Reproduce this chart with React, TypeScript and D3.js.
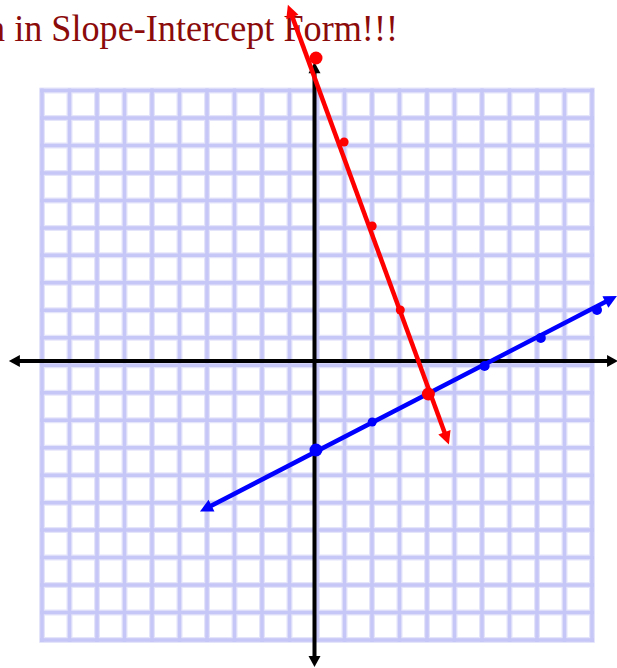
import React from 'react';
import * as d3 from 'd3';

// grid: 20 x 20 cells, -10..10
const gridTicks = d3.range(-10, 11);

// lines, arrow tail -> arrow head
const redEnds: [number, number][] = [[-1.0, 12.9], [4.73, -2.8]];
const blueEnds: [number, number][] = [[-4.13, -5.2], [10.71, 2.5]];

// plotted points [x, y, radius]
const redPoints: [number, number, number][] = [[0, 11, 6.5], [1, 8, 4.5], [2, 5, 4.5], [3, 2, 4.5], [4, -1, 6.5]];
const bluePoints: [number, number, number][] = [[0, -3, 6.5], [2, -2, 4.5], [6, 0, 5], [8, 1, 5], [10, 2, 5]];

const xAxisExtent = [-10.93, 10.75];
const yAxisExtent = [10.85, -10.75];

const title = 'n in Slope-Intercept Form!!!';

function arrowHead(x1: number, y1: number, x2: number, y2: number, len: number, half: number) {
  const a = Math.atan2(y2 - y1, x2 - x1);
  const bx = x2 - len * Math.cos(a);
  const by = y2 - len * Math.sin(a);
  const px = -Math.sin(a) * half;
  const py = Math.cos(a) * half;
  return `M${x2},${y2}L${bx + px},${by + py}L${bx - px},${by - py}Z`;
}

function Arrow({ x1, y1, x2, y2, color, width, len, half, both }: any) {
  const a = Math.atan2(y2 - y1, x2 - x1);
  // stop the shaft a bit short so the tip stays sharp
  const sx2 = x2 - (len * 0.6) * Math.cos(a);
  const sy2 = y2 - (len * 0.6) * Math.sin(a);
  const sx1 = both ? x1 + (len * 0.6) * Math.cos(a) : x1;
  const sy1 = both ? y1 + (len * 0.6) * Math.sin(a) : y1;
  return (
    <g>
      <line x1={sx1} y1={sy1} x2={sx2} y2={sy2} stroke={color} strokeWidth={width} />
      <path d={arrowHead(x1, y1, x2, y2, len, half)} fill={color} />
      {both && <path d={arrowHead(x2, y2, x1, y1, len, half)} fill={color} />}
    </g>
  );
}

export default function App() {
  const width = 617;
  const height = 668;

  // grid cells
  const gx = d3.scaleLinear().domain([-10, 10]).range([42, 592]);
  const gy = d3.scaleLinear().domain([-10, 10]).range([640, 90.5]);

  // plotted values
  const x = d3.scaleLinear().domain([-10, 10]).range([316 - 281, 316 + 281]);
  const y = d3.scaleLinear().domain([-10, 10]).range([646, 86]);

  // the drawn axes sit a few pixels off the grid centre
  const axisX = x(0) - 1.5;
  const axisY = y(0) - 5;

  const gridColor = '#c6c6f7';

  return (
    <svg width={width} height={height} style={{ position: 'absolute', left: 0, top: 0, background: '#fff' }}>
      <g>
        {gridTicks.map(t => (
          <g key={'g' + t}>
            <line x1={gx(t)} x2={gx(t)} y1={gy(-10) + 2.5} y2={gy(10) - 2.5} stroke="#e4e4fb" strokeWidth={6} />
            <line x1={gx(-10) - 2.5} x2={gx(10) + 2.5} y1={gy(t)} y2={gy(t)} stroke="#e4e4fb" strokeWidth={6} />
          </g>
        ))}
        {gridTicks.map(t => (
          <g key={'c' + t}>
            <line x1={gx(t)} x2={gx(t)} y1={gy(-10) + 2} y2={gy(10) - 2} stroke={gridColor} strokeWidth={3.5} />
            <line x1={gx(-10) - 2} x2={gx(10) + 2} y1={gy(t)} y2={gy(t)} stroke={gridColor} strokeWidth={3.5} />
          </g>
        ))}
      </g>

      <text x={-13} y={41} textLength={411} lengthAdjust="spacingAndGlyphs"
        fontFamily="'Liberation Serif', 'Times New Roman', serif"
        fontSize={38} fill="#8b0a0a">{title}</text>

      <Arrow x1={x(xAxisExtent[0])} y1={axisY} x2={x(xAxisExtent[1])} y2={axisY}
        color="#000" width={4} len={11} half={6} both />
      <Arrow x1={axisX} y1={y(yAxisExtent[0])} x2={axisX} y2={y(yAxisExtent[1])}
        color="#000" width={4} len={11} half={6} both />

      <Arrow x1={x(blueEnds[0][0])} y1={y(blueEnds[0][1])} x2={x(blueEnds[1][0])} y2={y(blueEnds[1][1])}
        color="#0000ff" width={4.5} len={13} half={6.5} both />
      <Arrow x1={x(redEnds[1][0])} y1={y(redEnds[1][1])} x2={x(redEnds[0][0])} y2={y(redEnds[0][1])}
        color="#ff0000" width={4.5} len={13} half={6.5} both />

      {bluePoints.map(([px, py, r], i) => (
        <circle key={'b' + i} cx={x(px)} cy={y(py)} r={r} fill="#0000ff" />
      ))}
      {redPoints.map(([px, py, r], i) => (
        <circle key={'r' + i} cx={x(px)} cy={y(py)} r={r} fill="#ff0000" />
      ))}
    </svg>
  );
}
